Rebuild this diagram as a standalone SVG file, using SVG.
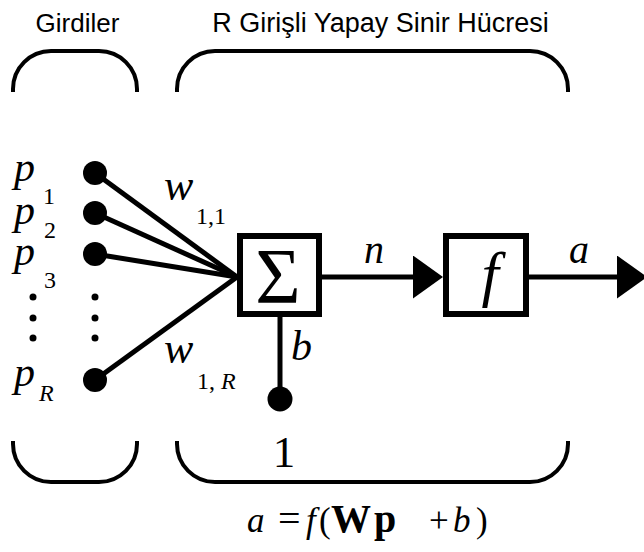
<svg xmlns="http://www.w3.org/2000/svg" width="644" height="552" viewBox="0 0 644 552">
  <style>
    .sans { font-family: "Liberation Sans", Arial, sans-serif; fill: #000; }
    .it { font-style: italic; }
    .brace { fill: none; stroke: #000; stroke-width: 4; }
    .wire { fill: none; stroke: #000; stroke-width: 5; }
    .box { fill: #fff; stroke: #000; stroke-width: 6; }
    .dot { fill: #000; }
  </style>
  <defs>
    <marker id="head" markerUnits="userSpaceOnUse" markerWidth="31" markerHeight="44" refX="1" refY="21.5" orient="auto">
      <path d="M0,0 L30,21.5 L0,43 Z" fill="#000"/>
    </marker>
  </defs>

  <rect width="644" height="552" fill="#fff"/>

  <!-- section headings -->
  <text class="sans" x="77.5" y="32" font-size="26" text-anchor="middle">Girdiler</text>
  <text class="sans" x="380.5" y="32" font-size="27" text-anchor="middle">R Girişli Yapay Sinir Hücresi</text>

  <!-- braces above -->
  <path class="brace" d="M13,92 V89 A38,38 0 0 1 51,51 H99 A38,38 0 0 1 137,89 V92"/>
  <path class="brace" d="M177,92 V89 A38,38 0 0 1 215,51 H530 A38,38 0 0 1 568,89 V92"/>

  <!-- braces below -->
  <path class="brace" d="M13,441 V444 A38,38 0 0 0 51,482 H99 A38,38 0 0 0 137,444 V441"/>
  <path class="brace" d="M177,441 V444 A38,38 0 0 0 215,482 H530 A38,38 0 0 0 568,444 V441"/>

  <!-- connectors -->
  <g id="connectors">
    <line class="wire" x1="95" y1="173" x2="237" y2="277"/>
    <line class="wire" x1="95" y1="213" x2="237" y2="277"/>
    <line class="wire" x1="95" y1="254" x2="237" y2="277"/>
    <line class="wire" x1="95" y1="380" x2="237" y2="277"/>
    <line class="wire" x1="322" y1="277" x2="414" y2="277" marker-end="url(#head)"/>
    <line class="wire" x1="529" y1="277" x2="618" y2="277" marker-end="url(#head)"/>
    <line class="wire" x1="280" y1="317" x2="280" y2="399"/>
  </g>

  <g font-family="Liberation Serif, Times New Roman, serif" fill="#000">
    <!-- inputs -->
    <g id="input-p1">
      <circle class="dot" cx="95" cy="173" r="12"/>
      <text class="it" x="14" y="181" font-size="42">p</text>
      <text x="43" y="204" font-size="24">1</text>
    </g>
    <g id="input-p2">
      <circle class="dot" cx="95" cy="213" r="12"/>
      <text class="it" x="14" y="224" font-size="42">p</text>
      <text x="44" y="238" font-size="24">2</text>
    </g>
    <g id="input-p3">
      <circle class="dot" cx="95" cy="254" r="12"/>
      <text class="it" x="14" y="265" font-size="42">p</text>
      <text x="44" y="288" font-size="24">3</text>
    </g>
    <g id="input-ellipsis">
      <circle class="dot" cx="33" cy="297" r="3.5"/>
      <circle class="dot" cx="33" cy="318" r="3.5"/>
      <circle class="dot" cx="33" cy="338" r="3.5"/>
      <circle class="dot" cx="95" cy="297" r="3.5"/>
      <circle class="dot" cx="95" cy="318" r="3.5"/>
      <circle class="dot" cx="95" cy="338" r="3.5"/>
    </g>
    <g id="input-pR">
      <circle class="dot" cx="95" cy="380" r="12"/>
      <text class="it" x="14" y="386" font-size="42">p</text>
      <text class="it" x="39" y="401" font-size="24">R</text>
    </g>

    <!-- weight labels -->
    <g id="weight-labels">
      <text class="it" x="164" y="200" font-size="44">w</text>
      <text x="196" y="224" font-size="24">1,1</text>
      <text class="it" x="164" y="363" font-size="44">w</text>
      <text x="197" y="389" font-size="24">1, <tspan font-style="italic">R</tspan></text>
    </g>

    <!-- summing junction -->
    <g id="sum">
      <rect class="box" x="240" y="236" width="79" height="78"/>
      <text x="278" y="302" font-size="78" text-anchor="middle">Σ</text>
    </g>

    <!-- bias input -->
    <g id="bias">
      <circle class="dot" cx="280" cy="399" r="12.5"/>
      <text class="it" x="291" y="360" font-size="42">b</text>
      <text x="284" y="467" font-size="45" text-anchor="middle">1</text>
    </g>

    <!-- transfer function -->
    <g id="transfer">
      <rect class="box" x="446" y="236" width="80" height="78"/>
      <text class="it" x="490" y="295" font-size="62" text-anchor="middle">f</text>
    </g>

    <!-- signal labels -->
    <text class="it" x="364" y="263" font-size="40">n</text>
    <text class="it" x="569" y="263" font-size="40">a</text>

    <!-- output equation -->
    <text y="532" font-size="35">
      <tspan x="247" font-style="italic">a</tspan>
      <tspan x="278" font-size="40">=</tspan>
      <tspan x="306" font-style="italic">f</tspan>
      <tspan x="319">(</tspan>
      <tspan x="331" font-weight="bold" font-size="40">W</tspan>
      <tspan x="374" font-weight="bold" font-size="40">p</tspan>
      <tspan x="429">+</tspan>
      <tspan x="453" font-style="italic">b</tspan>
      <tspan x="476">)</tspan>
    </text>
  </g>
</svg>
